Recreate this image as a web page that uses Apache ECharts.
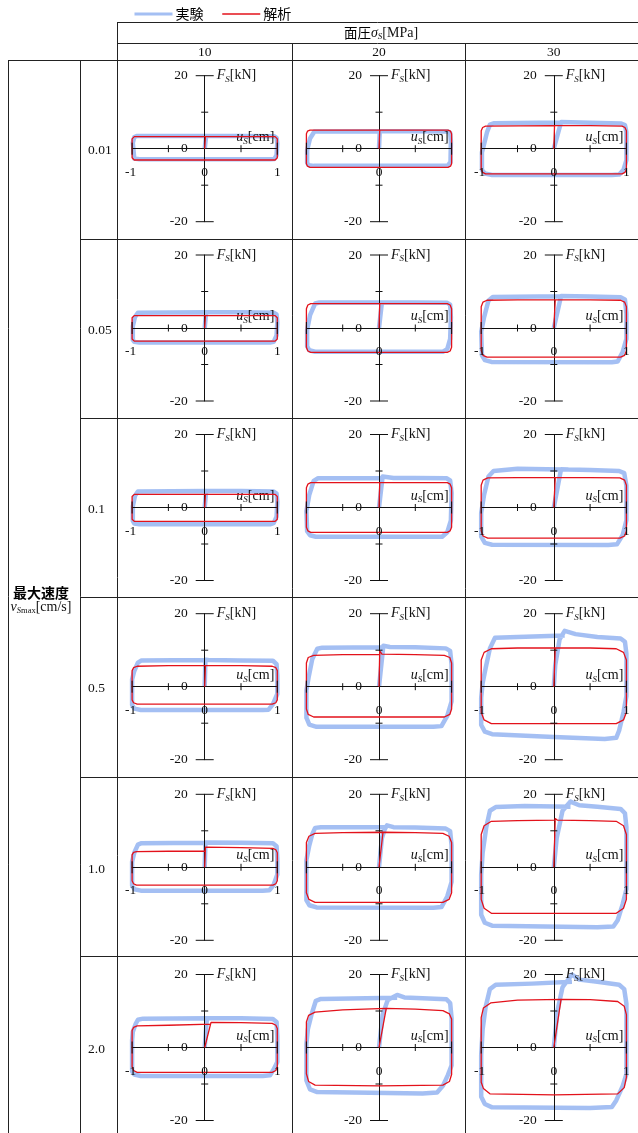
<!DOCTYPE html>
<html>
<head>
<meta charset="utf-8">
<script src="https://cdn.jsdelivr.net/npm/echarts/dist/echarts.min.js"></script>
<style>
  html, body { margin: 0; padding: 0; background: #fff; }
  #main { width: 638px; height: 1133px; }
</style>
</head>
<body>
<div id="main"></div>
<script>
// 行 = 最大速度, 列 = 面圧
var rowLabels = ['0.01', '0.05', '0.1', '0.5', '1.0', '2.0'];
var colLabels = ['10', '20', '30'];
var yTickVals = [-20, -10, 10, 20];
var xTickVals = [-1, -0.5, 0.5, 1];
var yLabelVals = [-20, 0, 20];
var xLabelVals = [[-1, 0, 1], [0], [-1, 0, 1]];

// 実験 (u[cm], F[kN])
var exp_001_10 = [[0,0],[0.02,3.5],[0.5,3.5],[0.96,3.4],[0.99,3.0],[1,1.5],[0.99,-1.8],[0.96,-2.8],[0.9,-2.9],[-0.9,-2.9],[-0.97,-2.7],[-0.99,-2.2],[-0.99,1.6],[-0.97,3.2],[-0.93,3.5],[0.02,3.5]];
var exp_001_20 = [[0,0],[0.01,4.8],[0.5,4.8],[0.95,4.7],[0.98,4.4],[0.99,2.0],[0.985,-3.6],[0.95,-4.6],[0.9,-4.7],[-0.9,-4.7],[-0.97,-4.5],[-0.99,-3.8],[-0.99,-0.4],[-0.95,2.8],[-0.89,4.7],[0.01,4.8]];
var exp_001_30 = [[0,0],[0.1,7.3],[0.5,7.1],[0.93,6.9],[0.98,6.5],[1,4.5],[1,-3.1],[0.96,-5.8],[0.9,-7.1],[0.8,-7.2],[-0.85,-7.2],[-0.95,-6.8],[-0.99,-5.8],[-0.99,-1.0],[-0.97,0.5],[-0.92,4.5],[-0.88,6.6],[-0.82,7.0],[0.1,7.2]];
var exp_005_10 = [[0,0],[0.02,4.3],[0.5,4.3],[0.95,4.2],[0.99,3.7],[1,1.5],[0.99,-2.0],[0.95,-3.8],[0.9,-4.0],[-0.9,-4.0],[-0.97,-3.8],[-0.99,-3.2],[-0.99,0.5],[-0.96,3.0],[-0.92,4.2],[0.02,4.3]];
var exp_005_20 = [[0,0],[0.04,7.0],[0.5,7.0],[0.94,6.9],[0.98,6.4],[0.99,3.0],[0.98,-3.0],[0.94,-5.8],[0.88,-6.5],[-0.88,-6.5],[-0.96,-6.1],[-0.99,-5.0],[-0.99,-0.5],[-0.95,3.5],[-0.88,6.7],[-0.82,7.0],[0.04,7.0]];
var exp_005_30 = [[0,0],[0.1,8.8],[0.5,8.6],[0.92,8.4],[0.98,7.8],[1,4.0],[1,-3.0],[0.95,-6.5],[0.88,-9.2],[0.8,-9.4],[-0.86,-9.3],[-0.95,-8.8],[-0.99,-7.5],[-1,-1.0],[-0.96,3.0],[-0.9,7.5],[-0.84,8.5],[0.1,8.7]];
var exp_01_10 = [[0,0],[0.02,4.5],[0.5,4.5],[0.95,4.4],[0.99,3.8],[1,1.5],[0.99,-2.5],[0.95,-4.3],[0.9,-4.6],[-0.9,-4.6],[-0.97,-4.4],[-0.99,-3.6],[-0.99,0.3],[-0.96,3.2],[-0.92,4.4],[0.02,4.5]];
var exp_01_20 = [[0,0],[0.05,8.5],[0.2,8.1],[0.5,8.1],[0.93,8.0],[0.98,7.4],[1,4.0],[0.99,-3.5],[0.94,-6.8],[0.87,-8.0],[-0.87,-8.0],[-0.95,-7.6],[-0.99,-6.5],[-1,-1.0],[-0.96,3.5],[-0.9,7.3],[-0.84,8.0],[0.05,8.1]];
var exp_01_30 = [[0,0],[0.1,10.5],[0.2,10.4],[0.5,10.3],[0.9,10.0],[0.97,9.4],[1,6.0],[1,-3.5],[0.95,-7.5],[0.87,-10.1],[0.75,-10.3],[-0.85,-10.2],[-0.95,-9.7],[-1,-8.0],[-1,-1.5],[-0.96,3.5],[-0.9,8.5],[-0.83,10.0],[-0.5,10.6],[0.1,10.4]];
var exp_05_10 = [[0,0],[0.01,7.4],[0.05,7.3],[0.5,7.2],[0.94,7.1],[0.99,6.2],[1,3.0],[1,-2.0],[0.94,-4.8],[0.88,-6.3],[0.8,-6.4],[-0.88,-6.4],[-0.97,-6.0],[-1,-5.0],[-1,2.0],[-0.97,4.3],[-0.92,6.6],[-0.87,7.2],[0.01,7.3]];
var exp_05_20 = [[0,0],[0.06,11.2],[0.15,10.9],[0.5,10.8],[0.92,10.5],[0.98,9.8],[1,6.0],[1,-4.0],[0.94,-8.0],[0.86,-10.8],[0.75,-11.0],[-0.86,-11.0],[-0.96,-10.4],[-1,-8.5],[-1,-1.0],[-0.97,2.5],[-0.92,7.5],[-0.85,10.4],[-0.78,10.7],[0.06,10.8]];
var exp_05_30 = [[0,0],[0.02,6.0],[0.08,13.0],[0.15,15.3],[0.3,14.4],[0.6,13.6],[0.92,13.2],[0.98,12.3],[1,9.0],[1,-2.6],[0.96,-7.0],[0.9,-12.0],[0.86,-14.0],[0.7,-14.3],[0,-13.8],[-0.85,-13.0],[-0.95,-12.3],[-1,-10.5],[-1,-3.0],[-0.98,1.0],[-0.94,5.0],[-0.88,10.5],[-0.81,13.4],[-0.5,13.6],[0.15,14.0]];
var exp_10_10 = [[0,0],[0.01,6.8],[0.5,6.7],[0.94,6.6],[0.99,5.8],[1,2.5],[1,-2.0],[0.95,-4.8],[0.89,-6.3],[0.8,-6.4],[-0.88,-6.4],[-0.97,-6.0],[-1,-5.0],[-1,1.5],[-0.97,4.0],[-0.92,6.2],[-0.87,6.6],[0.01,6.7]];
var exp_10_20 = [[0,0],[0.04,8.0],[0.08,10.5],[0.11,11.5],[0.2,11.0],[0.5,10.9],[0.92,10.6],[0.98,9.9],[1,6.0],[1,-4.0],[0.94,-8.0],[0.86,-10.9],[0.75,-11.1],[-0.86,-11.0],[-0.96,-10.4],[-1,-9.0],[-1,2.0],[-0.96,6.0],[-0.92,9.0],[-0.88,10.8],[-0.8,11.0],[0.11,11.0]];
var exp_10_30 = [[0,0],[0.04,8.0],[0.12,15.5],[0.23,18.0],[0.35,17.0],[0.6,16.6],[0.92,16.0],[0.98,14.8],[1,11.0],[1,-6.0],[0.95,-10.0],[0.88,-14.5],[0.82,-16.2],[0.6,-16.4],[-0.85,-16.0],[-0.95,-15.2],[-1,-13.0],[-1,-2.0],[-0.98,4.0],[-0.93,11.0],[-0.88,15.5],[-0.8,16.5],[-0.4,16.8],[0.23,16.6]];
var exp_20_10 = [[0,0],[0.03,8.0],[0.5,8.0],[0.94,7.8],[0.99,7.0],[1,3.0],[1,-4.0],[0.95,-6.0],[0.9,-7.6],[0.8,-7.8],[-0.88,-7.8],[-0.97,-7.4],[-1,-6.5],[-1,2.0],[-0.99,4.3],[-0.95,6.5],[-0.92,7.6],[-0.85,7.9],[0.03,8.0]];
var exp_20_20 = [[0,0],[0.05,9.0],[0.12,13.0],[0.25,14.4],[0.35,13.7],[0.6,13.5],[0.93,13.2],[0.98,12.2],[1,8.0],[1,-4.9],[0.95,-7.5],[0.88,-10.5],[0.8,-12.3],[0.6,-12.6],[-0.85,-12.2],[-0.95,-11.5],[-1,-9.0],[-1,1.0],[-0.98,5.0],[-0.93,9.0],[-0.87,12.8],[-0.8,13.3],[0.25,13.6]];
var exp_20_30 = [[0,0],[0.05,10.0],[0.12,16.5],[0.25,20.0],[0.35,18.6],[0.6,18.0],[0.9,17.2],[0.97,16.0],[1,12.0],[1,-7.3],[0.95,-10.5],[0.86,-14.5],[0.8,-16.3],[0.5,-16.6],[-0.85,-16.4],[-0.95,-15.5],[-1,-13.5],[-1,-2.0],[-0.98,5.0],[-0.94,11.0],[-0.88,16.0],[-0.8,17.2],[-0.3,17.5],[0.25,18.0]];

// 解析
var ana_001_10 = [[0,0],[0.01,3.3],[0.97,3.3],[0.99,3.1],[1,2.7],[1,-2.5],[0.99,-2.9],[0.97,-3.1],[-0.97,-3.1],[-0.99,-2.9],[-1,-2.5],[-1,2.7],[-0.99,3.1],[-0.97,3.3],[0.01,3.3]];
var ana_001_20 = [[0,0],[0.01,5.1],[0.95,5.1],[0.985,4.8],[1,4.1],[1,-4.1],[0.985,-4.8],[0.95,-5.1],[-0.95,-5.1],[-0.985,-4.8],[-1,-4.1],[-1,4.1],[-0.985,4.8],[-0.95,5.1],[0.01,5.1]];
var ana_001_30 = [[0,0],[0.01,6.3],[0.5,6.3],[0.94,6.2],[0.98,5.8],[1,4.9],[1,-5.6],[0.98,-6.5],[0.94,-6.9],[-0.94,-6.9],[-0.98,-6.5],[-1,-5.6],[-1,4.9],[-0.98,5.8],[-0.94,6.2],[0.01,6.3]];
var ana_005_10 = [[0,0],[0.01,3.4],[0.97,3.4],[0.99,3.2],[1,2.8],[1,-3.0],[0.99,-3.4],[0.97,-3.6],[-0.97,-3.6],[-0.99,-3.4],[-1,-3.0],[-1,2.8],[-0.99,3.2],[-0.97,3.4],[0.01,3.4]];
var ana_005_20 = [[0,0],[0.01,6.7],[0.94,6.7],[0.98,6.3],[1,5.3],[1,-5.3],[0.98,-6.3],[0.94,-6.7],[-0.94,-6.7],[-0.98,-6.3],[-1,-5.3],[-1,5.3],[-0.98,6.3],[-0.94,6.7],[0.01,6.7]];
var ana_005_30 = [[0,0],[0.02,7.7],[0.5,7.7],[0.92,7.6],[0.975,7.1],[1,5.8],[1,-6.2],[0.975,-7.5],[0.92,-8.0],[-0.92,-8.0],[-0.975,-7.5],[-1,-6.2],[-1,5.8],[-0.975,7.1],[-0.92,7.6],[-0.5,7.7],[0.02,7.7]];
var ana_01_10 = [[0,0],[0.01,3.6],[0.97,3.6],[0.99,3.4],[1,3.0],[1,-3.2],[0.99,-3.6],[0.97,-3.8],[-0.97,-3.8],[-0.99,-3.6],[-1,-3.2],[-1,3.0],[-0.99,3.4],[-0.97,3.6],[0.01,3.6]];
var ana_01_20 = [[0,0],[0.01,6.8],[0.94,6.8],[0.98,6.4],[1,5.4],[1,-5.4],[0.98,-6.4],[0.94,-6.8],[-0.94,-6.8],[-0.98,-6.4],[-1,-5.4],[-1,5.4],[-0.98,6.4],[-0.94,6.8],[0.01,6.8]];
var ana_01_30 = [[0,0],[0.02,8.2],[0.5,8.2],[0.91,8.1],[0.975,7.5],[1,6.1],[1,-6.4],[0.975,-7.8],[0.91,-8.4],[-0.91,-8.4],[-0.975,-7.8],[-1,-6.4],[-1,6.1],[-0.975,7.5],[-0.91,8.1],[-0.5,8.2],[0.02,8.2]];
var ana_05_10 = [[0,0],[0.01,5.8],[0.5,5.8],[0.93,5.6],[0.98,5.2],[1,4.4],[1,-3.6],[0.98,-4.4],[0.93,-4.8],[-0.93,-4.8],[-0.98,-4.4],[-1,-3.6],[-1,4.4],[-0.98,5.2],[-0.93,5.6],[-0.5,5.8],[0.01,5.8]];
var ana_05_20 = [[0,0],[0.01,9.8],[0.04,8.9],[0.5,8.8],[0.9,8.6],[0.975,8.0],[1,6.5],[1,-6.1],[0.975,-7.6],[0.9,-8.3],[-0.9,-8.3],[-0.975,-7.6],[-1,-6.1],[-1,6.5],[-0.975,8.0],[-0.9,8.6],[-0.5,8.8],[0.02,8.8]];
var ana_05_30 = [[0,0],[0.02,10.6],[0.5,10.6],[0.86,10.4],[0.96,9.4],[1,7.3],[1,-7.0],[0.96,-9.1],[0.86,-10.1],[-0.86,-10.1],[-0.96,-9.1],[-1,-7.0],[-1,7.3],[-0.96,9.4],[-0.86,10.4],[-0.5,10.6],[0.02,10.6]];
var ana_10_10 = [[0,0],[0.01,5.5],[0.5,5.4],[0.94,5.2],[0.98,4.8],[1,4.0],[1,-3.7],[0.98,-4.5],[0.94,-4.9],[-0.94,-4.9],[-0.98,-4.5],[-1,-3.7],[-1,3.4],[-0.98,4.1],[-0.94,4.3],[-0.5,4.4],[0.01,4.4]];
var ana_10_20 = [[0,0],[0.055,9.6],[0.5,9.5],[0.88,9.3],[0.965,8.5],[1,6.8],[1,-7.0],[0.965,-8.8],[0.88,-9.6],[-0.88,-9.6],[-0.965,-8.8],[-1,-7.0],[-1,6.8],[-0.965,8.5],[-0.88,9.3],[-0.5,9.5],[0.055,9.6]];
var ana_10_30 = [[0,0],[0.02,13.4],[0.05,12.9],[0.5,12.8],[0.86,12.6],[0.96,11.4],[1,9.0],[1,-8.8],[0.96,-11.2],[0.86,-12.6],[-0.86,-12.6],[-0.96,-11.2],[-1,-8.8],[-1,9.0],[-0.96,11.4],[-0.86,12.6],[-0.5,12.8],[0.03,12.9]];
var ana_20_10 = [[0,0],[0.087,6.9],[0.5,6.8],[0.93,6.6],[0.98,6.1],[1,5.2],[1,-5.3],[0.98,-6.3],[0.93,-6.8],[-0.93,-6.8],[-0.98,-6.3],[-1,-5.3],[-1,4.7],[-0.98,5.5],[-0.93,5.9],[-0.5,6.1],[0.087,6.4]];
var ana_20_20 = [[0,0],[0.1,10.7],[0.5,10.5],[0.88,10.1],[0.97,9.2],[1,7.8],[1,-7.4],[0.97,-9.3],[0.88,-10.3],[0,-10.5],[-0.88,-10.3],[-0.97,-9.3],[-1,-7.2],[-1,7.0],[-0.97,8.8],[-0.88,9.7],[-0.5,10.3],[0.1,10.7]];
var ana_20_30 = [[0,0],[0.1,13.2],[0.5,13.1],[0.88,12.6],[0.97,11.3],[1,9.0],[1,-8.2],[0.97,-11.0],[0.88,-12.7],[0,-13.0],[-0.88,-12.7],[-0.97,-11.2],[-1,-9.5],[-1,8.2],[-0.97,10.8],[-0.87,12.2],[-0.5,13.0],[0.1,13.2]];

var expLoops = [
  [exp_001_10, exp_001_20, exp_001_30],
  [exp_005_10, exp_005_20, exp_005_30],
  [exp_01_10, exp_01_20, exp_01_30],
  [exp_05_10, exp_05_20, exp_05_30],
  [exp_10_10, exp_10_20, exp_10_30],
  [exp_20_10, exp_20_20, exp_20_30]
];
var anaLoops = [
  [ana_001_10, ana_001_20, ana_001_30],
  [ana_005_10, ana_005_20, ana_005_30],
  [ana_01_10, ana_01_20, ana_01_30],
  [ana_05_10, ana_05_20, ana_05_30],
  [ana_10_10, ana_10_20, ana_10_30],
  [ana_20_10, ana_20_20, ana_20_30]
];

// レイアウト (px)
var colCenters = [204.7, 379, 553.8];
var rowCenters = [148.7, 328, 507.5, 686.7, 867.3, 1047.5];
var halfW = 72.6, halfH = 73;
var SERIF = 'Liberation Serif';
var SANS = 'Noto Sans CJK JP';
var INK = '#111';
var BLUE = 'rgba(108,152,236,0.62)';
var RED = '#e3121b';

var nameRich = {
  i: { fontFamily: SERIF, fontStyle: 'italic', fontSize: 14, color: INK },
  s: { fontFamily: SERIF, fontStyle: 'italic', fontSize: 9, color: INK, padding: [8, 0, 0, 0] },
  n: { fontFamily: SERIF, fontSize: 14, color: INK }
};

// 原点を通る軸の目盛りとラベル (kind: 0=x目盛, 1=y目盛, 2=xラベル, 3=yラベル)
function renderAxisMarks(params, api) {
  var kind = api.value(2);
  var p = api.coord([api.value(0), api.value(1)]);
  var h;
  if (kind === 1) {
    h = Math.abs(api.value(1)) === 20 ? 9 : 3.5;
    return { type: 'line', shape: { x1: p[0] - h, y1: p[1], x2: p[0] + h, y2: p[1] }, style: { stroke: INK, lineWidth: 1 } };
  }
  if (kind === 0) {
    h = Math.abs(api.value(0)) === 1 ? 6 : 3.5;
    return { type: 'line', shape: { x1: p[0], y1: p[1] - h, x2: p[0], y2: p[1] + h }, style: { stroke: INK, lineWidth: 1 } };
  }
  if (kind === 2) {
    return { type: 'text', x: p[0] - (api.value(0) === -1 ? 1.5 : 0), y: p[1] + 23.5,
      style: { text: String(api.value(0)), align: 'center', verticalAlign: 'middle', fontFamily: SERIF, fontSize: 13.5, fill: INK } };
  }
  return { type: 'text', x: p[0] - 17, y: p[1],
    style: { text: String(api.value(1)), align: 'right', verticalAlign: 'middle', fontFamily: SERIF, fontSize: 13.5, fill: INK } };
}

var grids = [], xAxes = [], yAxes = [], series = [];
for (var r = 0; r < rowLabels.length; r++) {
  for (var c = 0; c < colLabels.length; c++) {
    var k = grids.length;
    grids.push({
      left: colCenters[c] - halfW, top: rowCenters[r] - halfH,
      width: halfW * 2, height: halfH * 2
    });
    xAxes.push({
      gridIndex: k, type: 'value', min: -1, max: 1, z: 3,
      axisLine: { onZero: true, lineStyle: { color: INK, width: 1 } },
      axisTick: { show: false }, axisLabel: { show: false },
      splitLine: { show: false },
      name: '{i|u}{s|S}{n|[cm]}', nameLocation: 'end', nameGap: 0,
      nameTextStyle: { align: 'right', verticalAlign: 'bottom', padding: [0, 3, 3, 0], rich: nameRich }
    });
    yAxes.push({
      gridIndex: k, type: 'value', min: -20, max: 20, z: 3,
      axisLine: { onZero: true, lineStyle: { color: INK, width: 1 } },
      axisTick: { show: false }, axisLabel: { show: false },
      splitLine: { show: false },
      name: '{i|F}{s|S}{n|[kN]}', nameLocation: 'end', nameGap: 0,
      nameTextStyle: { align: 'left', verticalAlign: 'middle', padding: [0, 0, 0, 12], rich: nameRich }
    });
    series.push({
      name: '実験', type: 'line', xAxisIndex: k, yAxisIndex: k,
      data: expLoops[r][c], symbol: 'none', showSymbol: false, clip: false, z: 2,
      lineStyle: { color: BLUE, width: 4.5, join: 'round' },
      itemStyle: { color: BLUE }
    });
    series.push({
      name: '解析', type: 'line', xAxisIndex: k, yAxisIndex: k,
      data: anaLoops[r][c], symbol: 'none', showSymbol: false, clip: false, z: 4,
      lineStyle: { color: RED, width: 1.3 },
      itemStyle: { color: RED }
    });
    var marks = xTickVals.map(function (v) { return [v, 0, 0]; })
      .concat(yTickVals.map(function (v) { return [0, v, 1]; }))
      .concat(xLabelVals[c].map(function (v) { return [v, 0, 2]; }))
      .concat(yLabelVals.map(function (v) { return [0, v, 3]; }));
    series.push({
      type: 'custom', xAxisIndex: k, yAxisIndex: k, silent: true, z: 5,
      data: marks, renderItem: renderAxisMarks
    });
  }
}

// 表の罫線
var graphics = [];
function hline(y, x1, x2) {
  graphics.push({ type: 'line', shape: { x1: x1, y1: y, x2: x2, y2: y }, style: { stroke: '#222', lineWidth: 1 } });
}
function vline(x, y1, y2) {
  graphics.push({ type: 'line', shape: { x1: x, y1: y1, x2: x, y2: y2 }, style: { stroke: '#222', lineWidth: 1 } });
}
hline(22.5, 117, 638);
hline(43.5, 117, 638);
hline(60.5, 8, 638);
[239.5, 418.5, 597.5, 777.5, 956.5].forEach(function (y) { hline(y, 80, 638); });
vline(8.5, 60.5, 1133);
vline(80.5, 60.5, 1133);
vline(117.5, 22, 1133);
vline(292.5, 43.5, 1133);
vline(465.5, 43.5, 1133);

// 見出し
graphics.push({
  type: 'text', x: 381, y: 33,
  style: {
    text: '{c|面圧}{i|σ}{s|S}{n|[MPa]}', align: 'center', verticalAlign: 'middle',
    rich: {
      c: { fontFamily: SANS, fontSize: 13.5, fill: '#000' },
      i: { fontFamily: SERIF, fontStyle: 'italic', fontSize: 14, fill: INK },
      s: { fontFamily: SERIF, fontStyle: 'italic', fontSize: 9, fill: INK, padding: [8, 0, 0, 0] },
      n: { fontFamily: SERIF, fontSize: 14, fill: INK }
    }
  }
});
colLabels.forEach(function (t, i) {
  graphics.push({ type: 'text', x: colCenters[i], y: 52, style: { text: t, align: 'center', verticalAlign: 'middle', fontFamily: SERIF, fontSize: 13.5, fill: INK } });
});
rowLabels.forEach(function (t, i) {
  graphics.push({ type: 'text', x: 88, y: rowCenters[i] + 2, style: { text: t, align: 'left', verticalAlign: 'middle', fontFamily: SERIF, fontSize: 13.5, fill: INK } });
});
graphics.push({ type: 'text', x: 41, y: 592.5, style: { text: '最大速度', align: 'center', verticalAlign: 'middle', fontFamily: SANS, fontSize: 14, fontWeight: 'bold', fill: '#000' } });
graphics.push({
  type: 'text', x: 41, y: 607,
  style: {
    text: '{i|v}{s|S}{m|max}{n|[cm/s]}', align: 'center', verticalAlign: 'middle',
    rich: {
      i: { fontFamily: SERIF, fontStyle: 'italic', fontSize: 14, fill: INK },
      s: { fontFamily: SERIF, fontStyle: 'italic', fontSize: 8.5, fill: INK, padding: [7, 0, 0, 0] },
      m: { fontFamily: SERIF, fontSize: 8.5, fill: INK, padding: [7, 0, 0, 0] },
      n: { fontFamily: SERIF, fontSize: 14, fill: INK }
    }
  }
});

var myChart = echarts.init(document.getElementById('main'), null, { renderer: 'canvas' });
myChart.setOption({
  animation: false,
  backgroundColor: '#fff',
  legend: {
    data: [
      { name: '実験', lineStyle: { width: 3 } },
      { name: '解析', lineStyle: { width: 1.5 } }
    ],
    left: 128, top: 2,
    itemWidth: 38, itemHeight: 14, itemGap: 18,
    itemStyle: { color: 'transparent', borderColor: 'transparent', borderWidth: 0 },
    textStyle: { fontFamily: SANS, fontSize: 14, color: '#000', padding: [0, 0, 0, -2] }
  },
  grid: grids,
  xAxis: xAxes,
  yAxis: yAxes,
  series: series,
  graphic: graphics
});
</script>
</body>
</html>
